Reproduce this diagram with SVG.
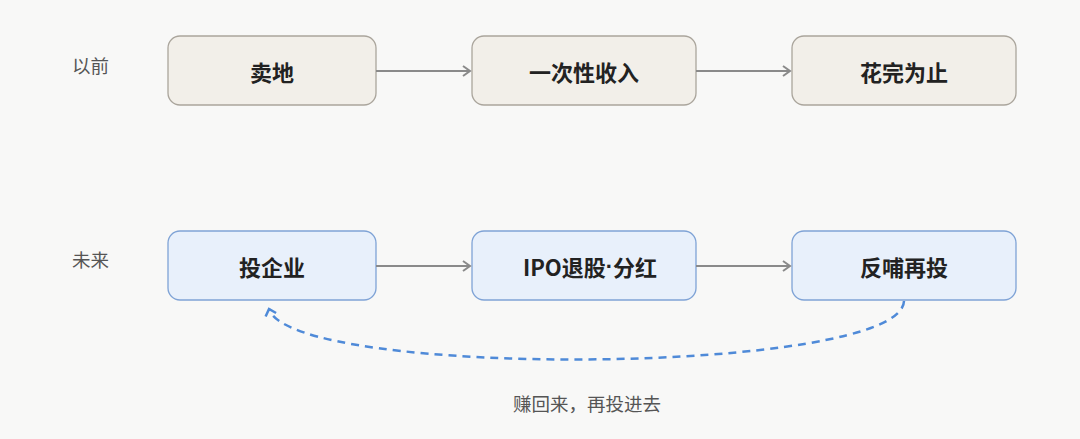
<svg xmlns="http://www.w3.org/2000/svg" width="1080" height="439" viewBox="0 0 1080 439">
<style>
.bg{fill:#f8f8f7}
.old{fill:#f2efe9;stroke:#aaa59c;stroke-width:1.3}
.new{fill:#e8f0fb;stroke:#7fa3d6;stroke-width:1.3}
.t{font-family:"Noto Sans CJK SC","Liberation Sans",sans-serif;font-size:22px;font-weight:700;fill:#222;text-anchor:middle;dominant-baseline:central}
.lab{font-family:"Noto Sans CJK SC","Liberation Sans",sans-serif;font-size:18.5px;fill:#555;dominant-baseline:central}
.dot{font-family:"Liberation Sans",sans-serif}
.c{stroke:#8a8a8a;stroke-width:2;fill:none}
.d{stroke:#4f8ad8;stroke-width:2.5;fill:none;stroke-dasharray:8 6}
</style>
<defs>
<marker id="ah" markerWidth="12" markerHeight="12" refX="9" refY="6" orient="auto" markerUnits="userSpaceOnUse">
<path d="M2,1 L9,6 L2,11" fill="none" stroke="#8a8a8a" stroke-width="2"/>
</marker>
<marker id="ab" markerWidth="14" markerHeight="14" refX="9" refY="7" orient="auto" markerUnits="userSpaceOnUse">
<path d="M3,1.5 L9,7 L3,12.5" fill="none" stroke="#4f8ad8" stroke-width="2.5"/>
</marker>
</defs>
<rect class="bg" width="1080" height="439"/>
<text class="lab" x="72" y="65">以前</text>
<text class="lab" x="72" y="259">未来</text>
<g id="n1"><rect class="old" x="168" y="36" width="208" height="69" rx="12"/><text class="t" x="272" y="71">卖地</text></g>
<g id="n2"><rect class="old" x="472" y="36" width="224" height="69" rx="12"/><text class="t" x="584" y="71">一次性收入</text></g>
<g id="n3"><rect class="old" x="792" y="36" width="224" height="69" rx="12"/><text class="t" x="904" y="71">花完为止</text></g>
<g id="n4"><rect class="new" x="168" y="231" width="208" height="69" rx="12"/><text class="t" x="272" y="266">投企业</text></g>
<g id="n5"><rect class="new" x="472" y="231" width="224" height="69" rx="12"/><text class="t" x="590" y="266">IPO退股<tspan class="dot">·</tspan>分红</text></g>
<g id="n6"><rect class="new" x="792" y="231" width="224" height="69" rx="12"/><text class="t" x="904" y="266">反哺再投</text></g>
<g id="connectors">
<line class="c" x1="376" y1="71" x2="470" y2="71" marker-end="url(#ah)"/>
<line class="c" x1="696" y1="71" x2="790" y2="71" marker-end="url(#ah)"/>
<line class="c" x1="376" y1="266" x2="470" y2="266" marker-end="url(#ah)"/>
<line class="c" x1="696" y1="266" x2="790" y2="266" marker-end="url(#ah)"/>
<path class="d" d="M904,301 C902,375 292,380 269,309" marker-end="url(#ab)"/>
<text class="lab" x="587" y="403" text-anchor="middle">赚回来，再投进去</text>
</g>
</svg>
